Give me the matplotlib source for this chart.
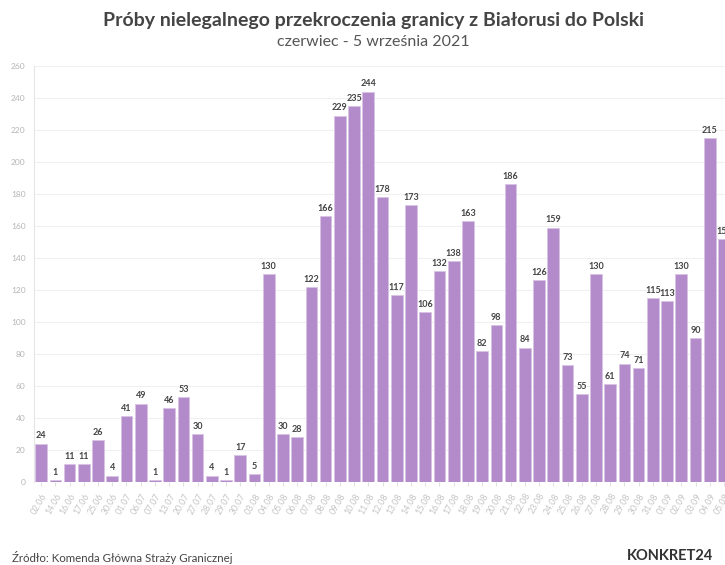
import numpy as np
import matplotlib.pyplot as plt

plt.rcParams['font.family'] = ['Lato', 'DejaVu Sans']

# daty i liczba prób
daty = ["02.06", "14.06", "16.06", "17.06", "25.06", "30.06", "01.07", "06.07",
        "07.07", "13.07", "20.07", "27.07", "28.07", "29.07", "30.07", "03.08",
        "04.08", "05.08", "06.08", "07.08", "08.08", "09.08", "10.08", "11.08",
        "12.08", "13.08", "14.08", "15.08", "16.08", "17.08", "18.08", "19.08",
        "20.08", "21.08", "22.08", "23.08", "24.08", "25.08", "26.08", "27.08",
        "28.08", "29.08", "30.08", "31.08", "01.09", "02.09", "03.09", "04.09",
        "05.09"]
proby = [24, 1, 11, 11, 26, 4, 41, 49, 1, 46, 53, 30, 4, 1, 17, 5,
         130, 30, 28, 122, 166, 229, 235, 244, 178, 117, 173, 106, 132, 138,
         163, 82, 98, 186, 84, 126, 159, 73, 55, 130, 61, 74, 71, 115, 113,
         130, 90, 215, 152]
y_ticks = list(range(0, 261, 20))

fig = plt.figure(figsize=(7.25, 5.65), dpi=100)
ax = fig.add_axes([34/725, 83/565, 1 - 34/725, 416/565])

x = np.arange(len(proby))
bars = ax.bar(x, proby, width=0.82, color='#b48bca', edgecolor='#d9c3e5', linewidth=0.6, zorder=2)

for xi, v in zip(x, proby):
    ax.text(xi, v + 2, str(v), ha='center', va='bottom', fontsize=6.5,
            fontweight='bold', color='#444444')

ax.set_ylim(0, 260)
ax.set_xlim(-0.5, 48.07)
ax.set_yticks(y_ticks)
ax.set_yticklabels([str(t) for t in y_ticks], fontsize=6, color='#b5b5b5')
ax.set_xticks(x)
ax.set_xticklabels(daty, rotation=60, ha='right', rotation_mode='anchor',
                   fontsize=6.3, color='#c4c4c4')
ax.tick_params(axis='y', length=0, pad=6)
ax.tick_params(axis='x', length=3, color='#e0e0e0', pad=4)
ax.grid(axis='y', color='#f0f0f0', linewidth=0.8, zorder=0)
for s in ['top', 'right', 'bottom']:
    ax.spines[s].set_visible(False)
ax.spines['left'].set_color('#e6e6e6')

fig.text(0.515, 0.964, "Próby nielegalnego przekroczenia granicy z Białorusi do Polski",
         ha='center', va='center', fontsize=14, fontweight='bold', color='#444444')
fig.text(0.515, 0.925, "czerwiec - 5 września 2021",
         ha='center', va='center', fontsize=11.5, color='#555555')

fig.text(12/725, 1 - 557/565, "Źródło: Komenda Główna Straży Granicznej",
         ha='left', va='center', fontsize=8.3, color='#444444')
fig.text(713/725, 1 - 556/565, "KONKRET24", ha='right', va='center',
         fontsize=10.5, fontweight='bold', color='#333333')

fig.savefig('out.png', dpi=100)
